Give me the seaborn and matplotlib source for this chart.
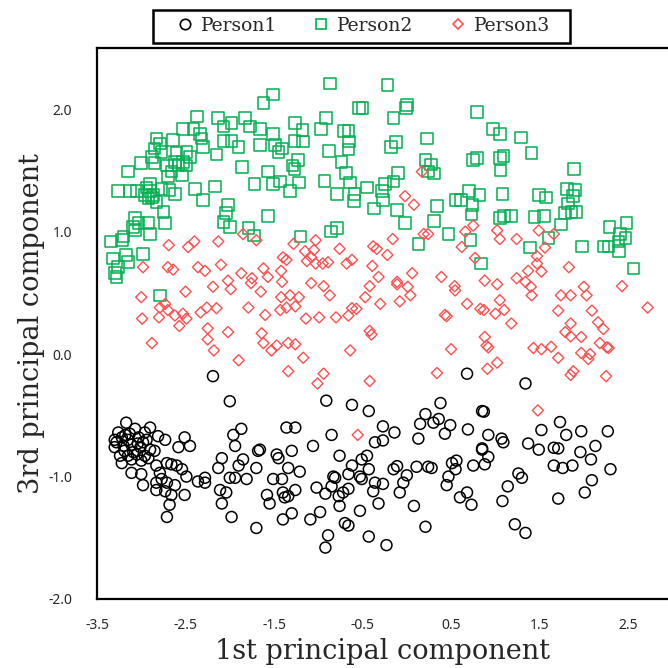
import numpy as np
import pandas as pd
import matplotlib
matplotlib.use("Agg")
import matplotlib.pyplot as plt
import seaborn as sns
from matplotlib.lines import Line2D
from matplotlib.patches import Rectangle

# ---------------- data ----------------
categories = ["Person1", "Person2", "Person3"]

p1_x = [-2.19, -2.00, -3.17, -3.26, -3.07, -2.96, -2.90, -3.30, -3.22, -3.15, -3.03, -2.98, -3.30, -3.20,
        -3.11, -3.01, -2.90, -2.85, -3.24, -3.15, -3.05, -2.96, -3.22, -3.11, -3.00, -2.92, -3.11, -3.00,
        -2.81, -2.73, -2.51, -2.45, -2.58, -2.98, -2.83, -2.71, -2.66, -2.60, -2.54, -2.79, -2.77, -2.83,
        -2.71, -2.49, -2.83, -2.73, -2.66, -2.62, -2.51, -2.68, -2.71, -2.36, -2.28, -2.28, -2.09, -2.13,
        -2.11, -2.04, -2.09, -1.98, -1.96, -1.87, -1.94, -2.00, -1.94, -1.81, -1.90, -1.85, -1.70, -1.68,
        -1.66, -1.70, -1.47, -1.45, -1.51, -1.41, -1.58, -1.55, -1.40, -1.38, -1.40, -1.36,
        -3.28, -3.18, -3.09, -3.04, -3.19, -2.94, -3.13,
        -0.91, -0.62, -0.43, 0.68, -1.26, -0.85, -1.06, -1.30, -0.76, -1.34, -1.21, -1.26, -1.34, -1.30,
        -1.09, -0.98, -0.89, -0.92, -1.02, -0.92, -0.85, -0.83, -0.81, -0.77, -0.76, -0.72, -0.66, -0.70,
        -0.66, -0.66, -0.62, -0.53, -0.51, -0.45, -0.43, -0.51, -0.36, -0.38, -0.27, -0.53, -0.32, -0.43,
        -0.23, -0.36, -0.27, -0.27, -0.14, -0.15, -0.11, 0.00, -0.04, -0.08, 0.08, 0.11, 0.21, 0.13,
        0.15, 0.21, 0.30, 0.38, 0.36, 0.43, 0.49, 0.24, 0.28, 0.51, 0.56, 0.55, 0.47, 0.45, 0.60, 0.68,
        0.73, 0.69, 0.85, 0.85, 0.75,
        1.34, 0.87, 0.92, 1.07, 1.09, 0.85, 0.92, 0.88, 1.37, 1.49, 1.52, 1.73, 1.80, 1.97, 2.27, 1.66,
        1.71, 1.66, 1.76, 1.87, 1.96, 2.08, 2.13, 2.30, 1.26, 1.30, 1.14, 1.08, 1.71, 2.09, 2.01, 1.22, 1.34]
p1_y = [-0.18, -0.385, -0.56, -0.64, -0.61, -0.64, -0.60, -0.70, -0.68, -0.70, -0.68, -0.72, -0.76, -0.75,
        -0.74, -0.76, -0.78, -0.79, -0.83, -0.83, -0.82, -0.83, -0.89, -0.86, -0.87, -0.85, -0.97, -0.98,
        -0.67, -0.70, -0.68, -0.75, -0.76, -1.07, -0.91, -0.89, -0.90, -0.91, -0.94, -0.97, -1.02, -1.05,
        -1.05, -1.00, -1.11, -1.12, -1.15, -1.07, -1.15, -1.23, -1.33, -1.04, -1.01, -1.05, -0.85, -0.93,
        -1.11, -1.13, -1.22, -1.33, -0.66, -0.61, -0.75, -1.01, -1.01, -1.02, -0.91, -0.86, -0.93, -0.79,
        -0.78, -1.42, -0.82, -0.85, -1.02, -1.02, -1.15, -1.22, -1.13, -1.17, -1.35, -0.60,
        -0.72, -0.66, -0.80, -0.73, -0.79, -0.70, -0.65,
        -0.38, -0.415, -0.465, -0.16, -0.60, -0.66, -0.75, -0.79, -0.83, -0.93, -0.96, -1.11, -1.16, -1.30,
        -1.35, -1.29, -1.48, -1.58, -1.09, -1.14, -1.08, -1.00, -1.01, -1.16, -1.24, -1.13, -1.10, -1.38,
        -1.40, -0.98, -0.91, -1.00, -0.86, -0.83, -0.94, -1.02, -1.05, -1.12, -1.06, -1.28, -1.22, -1.49,
        -1.56, -0.72, -0.705, -0.59, -0.64, -0.94, -0.915, -0.99, -1.05, -1.13, -1.24, -0.92, -1.41, -0.69,
        -0.57, -0.49, -0.56, -0.40, -0.53, -0.65, -0.58, -0.92, -0.93, -0.89, -0.87, -0.94, -1.00, -1.07,
        -1.17, -1.13, -1.23, -0.615, -0.465, -0.77, -0.91,
        -0.24, -0.47, -0.66, -0.69, -0.72, -0.78, -0.84, -0.90, -0.73, -0.78, -0.62, -0.555, -0.66, -0.63,
        -0.63, -0.765, -0.77, -0.91, -0.93, -0.91, -0.80, -0.86, -0.75, -0.94, -0.975, -1.01, -1.08, -1.20,
        -1.18, -1.03, -1.13, -1.39, -1.46]

p2_x = [-1.51, -1.62, -2.37, -2.41, -2.13, -2.07, -1.98, -1.83, -1.77, -1.66, -1.51, -2.53, -2.34, -2.32,
        -2.64, -2.83, -2.79, -2.85, -2.77, -2.88, -3.00, -3.15, -2.85, -2.71, -2.60, -2.49, -2.45, -2.53,
        -2.62, -2.58, -2.49, -2.66, -2.70, -2.54, -2.30, -2.15, -2.07, -1.98, -1.90, -1.66, -1.49, -1.45,
        -1.41, -1.86, -1.57, -1.51, -1.72, -1.43, -2.17, -2.39, -2.30, -2.90, -2.90, -2.92, -2.86, -2.83,
        -2.77, -2.68, -2.62, -3.26, -3.13, -3.05, -2.75, -2.73, -3.07, -3.03, -3.09, -2.92, -2.90, -3.34,
        -3.20, -3.22, -2.02, -2.04, -2.07, -2.00, -1.57, -1.79, -1.73, -2.94, -2.88, -2.96,
        -3.32, -3.17, -3.15, -3.26, -3.28, -2.98, -2.79, -3.07, -3.30,
        -0.87, -0.22, -0.54, -0.50, 0.00, -0.01, 0.79, -1.26, -0.91, -1.18, -0.97, -0.71, -0.66, -0.65,
        -1.27, -1.17, -0.15, -0.18, -0.12, 0.23, -0.88, -0.66, -0.74, -1.23, -1.29, -1.27, -0.69, -0.93,
        -1.22, -1.32, -0.64, -0.79, -0.59, -0.60, -0.45, -0.25, -0.15, -0.10, -0.28, -0.27, -0.37, -0.11,
        -0.02, 0.21, 0.27, 0.31, 0.24, 0.34, 0.31, 0.55, 0.61, 0.70, 0.74, 0.73, 0.47, 0.72, 0.13, -1.20,
        -0.86, -0.79, 0.79, 0.75,
        0.97, 1.05, 1.29, 1.41, 1.09, 1.05, 1.06, 1.89, 0.82, 1.08, 1.49, 1.57, 1.81, 1.90, 1.88, 1.82,
        1.91, 1.86, 1.79, 1.10, 1.18, 1.05, 1.44, 1.55, 1.74, 1.60, 2.29, 2.48, 2.41, 2.47, 2.39, 2.22,
        2.28, 1.39, 1.98, 2.40, 2.56, 0.84]
p2_y = [2.12, 2.05, 1.94, 1.84, 1.93, 1.86, 1.89, 1.93, 1.86, 1.84, 1.80, 1.84, 1.80, 1.76,
        1.75, 1.76, 1.72, 1.68, 1.65, 1.61, 1.56, 1.49, 1.56, 1.54, 1.64, 1.65, 1.61, 1.57,
        1.57, 1.54, 1.54, 1.49, 1.45, 1.46, 1.69, 1.63, 1.74, 1.74, 1.69, 1.71, 1.71, 1.65,
        1.68, 1.53, 1.49, 1.39, 1.39, 1.41, 1.37, 1.35, 1.26, 1.39, 1.33, 1.27, 1.30, 1.24,
        1.35, 1.34, 1.31, 1.33, 1.33, 1.33, 1.16, 1.07, 1.11, 1.07, 1.04, 1.07, 0.98, 0.92,
        0.96, 0.93, 1.22, 1.15, 1.08, 1.04, 1.13, 1.03, 0.97, 1.36, 1.28, 1.30,
        0.78, 0.81, 0.75, 0.71, 0.63, 0.82, 0.48, 1.01, 0.66,
        2.21, 2.20, 2.01, 2.01, 2.035, 2.01, 1.975, 1.89, 1.93, 1.83, 1.84, 1.82, 1.82, 1.735,
        1.74, 1.735, 1.93, 1.69, 1.73, 1.76, 1.66, 1.67, 1.57, 1.585, 1.54, 1.51, 1.48, 1.415,
        1.40, 1.33, 1.40, 1.31, 1.31, 1.25, 1.36, 1.39, 1.41, 1.48, 1.33, 1.26, 1.19, 1.175,
        1.07, 1.585, 1.55, 1.475, 1.49, 1.21, 1.085, 1.26, 1.26, 1.33, 1.22, 1.14, 0.98, 0.93, 0.90, 0.96,
        1.00, 1.03, 1.60, 1.585,
        1.84, 1.80, 1.77, 1.645, 1.62, 1.60, 1.50, 1.51, 1.30, 1.31, 1.30, 1.28, 1.35, 1.34, 1.29, 1.23,
        1.16, 1.16, 1.15, 1.13, 1.13, 1.11, 1.12, 1.13, 1.06, 0.95, 1.04, 1.07, 0.98, 0.95, 0.92, 0.88,
        0.88, 0.87, 0.88, 0.84, 0.70, 0.74]

p3_x = [-2.69, -2.47, -2.40, -2.13, -2.98, -2.70, -2.64, -2.36, -2.28, -2.10, -1.87, -1.75, -1.76, -1.62,
        -1.57, -1.42, -1.40, -1.36, -1.41, -1.65, -2.02, -1.99, -2.19, -2.50, -3.00, -2.73, -2.79, -2.70,
        -2.80, -2.99, -2.62, -2.53, -2.49, -2.57, -2.33, -2.26, -2.15, -1.79, -1.60, -2.25, -2.25, -2.18,
        -2.02, -2.88, -1.90, -1.64, -1.62, -1.53, -1.47, -1.34, -1.34, -1.85, -1.70, -1.43, -1.36, -1.42,
        -1.28, -1.03, -1.15, -1.05, -0.76, -0.38, -0.34, -0.16, -0.22, 0.19, 0.24, 0.62, -1.08, -1.13,
        -1.03, -0.95, -0.89, -0.68, -0.62, -0.39, -0.32, 0.06, -0.11, -0.11, 0.01, -1.08, -0.94, -0.87,
        -1.32, -1.22, -1.26, -0.42, -0.47, -0.30, -0.08, 0.04, -0.62, -0.57, -0.66, -0.80, -0.99, -1.14,
        -0.42, -0.40, -1.26, -0.64, -1.17, -0.94, -1.01, -0.42, 0.34, 0.50, 0.39, 0.54, 0.545, 0.68,
        0.43, 0.45, 0.77, -0.555, 0.17, -0.02, 0.08, 0.66, 0.75,
        1.02, 1.05, 1.24, 1.49, 1.66, 1.56, 1.47, 1.47, 1.37, 1.52, 1.24, 1.34, 1.40, 1.41, 0.88, 1.02,
        1.83, 2.43, 2.00, 2.03, 1.74, 1.85, 0.83, 0.87, 1.00, 1.10, 1.05, 1.18, 1.71, 2.09, 2.72, 1.85,
        1.79, 1.85, 1.97, 2.16, 2.22, 2.18, 2.26, 2.28, 0.88, 0.90, 0.92, 1.43, 1.52, 1.63, 1.71, 1.97,
        2.07, 2.05, 1.02, 0.91, 1.85, 1.88, 2.25, 1.48]
p3_y = [0.89, 0.875, 0.92, 0.92, 0.71, 0.71, 0.69, 0.71, 0.68, 0.73, 0.66, 0.62, 0.58, 0.70,
        0.63, 0.68, 0.79, 0.77, 0.59, 0.51, 0.60, 0.53, 0.55, 0.51, 0.465, 0.41, 0.38, 0.36,
        0.30, 0.29, 0.315, 0.33, 0.29, 0.23, 0.34, 0.38, 0.375, 0.38, 0.32, 0.21, 0.12, 0.03,
        0.18, 0.09, -0.05, 0.17, 0.09, 0.03, 0.07, 0.09, -0.14, 0.98, 0.93, 0.36, 0.38, 0.465,
        0.90, 0.93, 0.84, 0.85, 0.86, 0.88, 0.86, 0.94, 0.81, 0.98, 0.98, 0.875, 0.79, 0.76,
        0.74, 0.74, 0.75, 0.74, 0.77, 0.72, 0.63, 0.66, 0.59, 0.57, 0.55, 0.58, 0.555, 0.48,
        0.48, 0.465, 0.39, 0.555, 0.465, 0.41, 0.43, 0.48, 0.375, 0.37, 0.315, 0.30, 0.30, 0.29,
        0.19, 0.16, 0.08, 0.03, -0.03, -0.16, -0.24, -0.22, -0.155, 0.04, 0.63, 0.555, 0.52, 0.41,
        0.32, 0.31, 0.785, -0.66, 1.49, 1.29, 1.22, 1.00, 1.05,
        1.01, 0.94, 0.94, 1.01, 0.98, 0.87, 0.80, 0.74, 0.68, 0.675, 0.62, 0.59, 0.55, 0.48, 0.60, 0.57,
        0.71, 0.555, 0.55, 0.48, 0.48, 0.48, 0.37, 0.36, 0.33, 0.36, 0.44, 0.25, 0.355, 0.355, 0.38, 0.25,
        0.18, 0.145, 0.14, 0.26, 0.205, 0.09, 0.055, 0.05, 0.14, 0.07, 0.055, 0.05, 0.04, 0.06, -0.03, 0.01,
        0.00, -0.04, -0.07, -0.12, -0.17, -0.14, -0.18, -0.46]

x_ticks = [-3.5, -2.5, -1.5, -0.5, 0.5, 1.5, 2.5]
y_ticks = [-2.0, -1.0, 0.0, 1.0, 2.0]
x_label = "1st principal component"
y_label = "3rd principal component"

df = pd.concat([
    pd.DataFrame({"pc1": p1_x, "pc3": p1_y, "person": categories[0]}),
    pd.DataFrame({"pc1": p2_x, "pc3": p2_y, "person": categories[1]}),
    pd.DataFrame({"pc1": p3_x, "pc3": p3_y, "person": categories[2]}),
], ignore_index=True)

# ---------------- style ----------------
sns.set_style("white")
serif = ["DejaVu Serif"]
sans = ["Noto Sans", "DejaVu Sans"]

colors = {"Person1": "#000000", "Person2": "#00B050", "Person3": "#FF5050"}
markers = {"Person1": "o", "Person2": "s", "Person3": "D"}
sizes = {"Person1": 62, "Person2": 70, "Person3": 32}
lws = {"Person1": 1.1, "Person2": 1.1, "Person3": 1.0}

fig = plt.figure(figsize=(6.68, 6.68), dpi=100)
ax = fig.add_axes([97 / 668, 69 / 668, 1 - 97 / 668, (599 - 48) / 668])

for p in categories:
    sub = df[df["person"] == p]
    sns.scatterplot(data=sub, x="pc1", y="pc3", ax=ax, marker=markers[p], s=sizes[p],
                    facecolor="none", edgecolor=colors[p], linewidth=lws[p], legend=False)

ax.set_xlim(-3.5, 2.95)
ax.set_ylim(-2.0, 2.5)
ax.set_xticks(x_ticks)
ax.set_yticks(y_ticks)
ax.set_xticklabels([f"{v:.1f}" for v in x_ticks], family=sans, fontsize=10)
ax.set_yticklabels([f"{v:.1f}" for v in y_ticks], family=sans, fontsize=10)
ax.tick_params(direction="in", length=5, width=1.3)
ax.tick_params(axis="x", pad=14)
ax.tick_params(axis="y", pad=18)

for side in ["left", "bottom", "top"]:
    ax.spines[side].set_visible(True)
    ax.spines[side].set_color("black")
    ax.spines[side].set_linewidth(1.6)
ax.spines["right"].set_visible(False)

ax.set_xlabel(x_label, family=serif, fontsize=19.5, labelpad=3)
ax.set_ylabel(y_label, family=serif, fontsize=19.5, labelpad=2)

# legend box (drawn as a frame in figure coordinates) and entries
fig.patches.append(Rectangle((153 / 668, 1 - 43 / 668), (570 - 153) / 668, 33 / 668,
                             transform=fig.transFigure, fill=False, edgecolor="black",
                             linewidth=1.8, zorder=5))
handles = [Line2D([], [], linestyle="none", marker=markers[p], markersize=(7.5 if p != "Person3" else 5.5),
                  markerfacecolor="none", markeredgecolor=colors[p], markeredgewidth=1.2, label=p)
           for p in categories]
leg = fig.legend(handles=handles, loc="center", bbox_to_anchor=(362 / 668, 1 - 26 / 668), ncol=3,
                 frameon=False, prop={"family": "DejaVu Serif", "size": 13.5}, handletextpad=0.25,
                 columnspacing=1.75, borderpad=0.3, handlelength=1.2)

fig.savefig("out.png", dpi=100)
